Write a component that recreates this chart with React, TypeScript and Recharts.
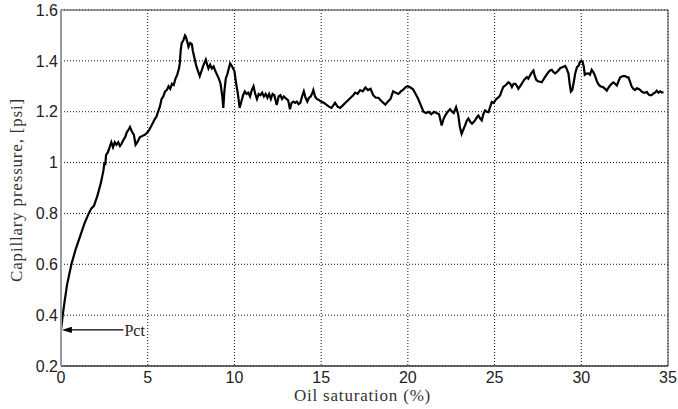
import { LineChart, Line, XAxis, YAxis, CartesianGrid, ReferenceLine, ReferenceArea, Label } from "recharts"

// oil saturation (%)
const saturation = [
  0, 0.05, 0.1, 0.2, 0.35, 0.6, 0.85, 1.1, 1.35, 1.6,
  1.75, 1.9, 2.1, 2.3, 2.45, 2.5, 2.55, 2.6, 2.7, 2.8,
  2.9, 3.0, 3.1, 3.2, 3.3, 3.4, 3.5, 3.6, 3.7, 3.8,
  3.9, 3.98, 4.1, 4.2, 4.3, 4.4, 4.55, 4.7, 4.85, 5.0,
  5.1, 5.25, 5.4, 5.5, 5.6, 5.7, 5.8, 5.9, 6.0, 6.1,
  6.2, 6.3, 6.4, 6.5, 6.6, 6.7, 6.8, 6.85, 6.9, 6.96,
  7.05, 7.15, 7.2, 7.3, 7.35, 7.45, 7.55, 7.6, 7.7, 7.8,
  7.9, 8.0, 8.1, 8.2, 8.35, 8.45, 8.5, 8.6, 8.7, 8.8,
  8.9, 9.0, 9.1, 9.2, 9.3, 9.36, 9.42, 9.5, 9.6, 9.75,
  9.85, 10.0, 10.1, 10.2, 10.3, 10.4, 10.5, 10.6, 10.7, 10.8,
  10.9, 11.0, 11.1, 11.2, 11.3, 11.4, 11.5, 11.6, 11.7, 11.8,
  11.9, 12.0, 12.1, 12.2, 12.3, 12.44, 12.55, 12.65, 12.75, 12.85,
  13.0, 13.1, 13.2, 13.3, 13.4, 13.5, 13.6, 13.7, 13.8, 13.9,
  14.0, 14.1, 14.2, 14.3, 14.4, 14.5, 14.55, 14.65, 14.75, 14.9,
  15.0, 15.15, 15.3, 15.45, 15.6, 15.7, 15.8, 15.95, 16.1, 16.25,
  16.4, 16.55, 16.7, 16.85, 16.96, 17.1, 17.25, 17.4, 17.55, 17.7,
  17.85, 18.0, 18.15, 18.3, 18.5, 18.7, 18.85, 19.0, 19.15, 19.3,
  19.45, 19.6, 19.75, 19.9, 20.0, 20.15, 20.3, 20.45, 20.6, 20.75,
  20.9, 21.05, 21.2, 21.35, 21.5, 21.65, 21.8, 21.95, 22.05, 22.15,
  22.3, 22.43, 22.55, 22.65, 22.78, 22.9, 23.0, 23.1, 23.2, 23.3,
  23.4, 23.49, 23.6, 23.7, 23.8, 23.87, 24.0, 24.07, 24.15, 24.26,
  24.35, 24.45, 24.55, 24.65, 24.75, 24.84, 24.95, 25.1, 25.2, 25.32,
  25.4, 25.5, 25.65, 25.8, 25.9, 26.0, 26.1, 26.2, 26.3, 26.37,
  26.47, 26.57, 26.7, 26.86, 26.95, 27.05, 27.15, 27.24, 27.3, 27.4,
  27.5, 27.62, 27.72, 27.85, 27.97, 28.1, 28.2, 28.3, 28.4, 28.5,
  28.65, 28.78, 28.9, 29.07, 29.15, 29.26, 29.33, 29.4, 29.48, 29.55,
  29.65, 29.75, 29.84, 29.92, 30.0, 30.08, 30.15, 30.2, 30.3, 30.41,
  30.5, 30.6, 30.7, 30.8, 30.9, 31.0, 31.1, 31.27, 31.37, 31.47,
  31.57, 31.66, 31.75, 31.85, 31.95, 32.05, 32.15, 32.24, 32.4, 32.53,
  32.65, 32.72, 32.8, 32.9, 33.0, 33.1, 33.2, 33.3, 33.4, 33.5,
  33.6, 33.7, 33.78, 33.85, 33.93, 34.05, 34.16, 34.25, 34.35, 34.45,
  34.55, 34.64, 34.74,
]

// capillary pressure (psi), same order as saturation
const pressure = [
  0.342, 0.37, 0.40, 0.45, 0.52, 0.60, 0.66, 0.71, 0.76, 0.80,
  0.82, 0.83, 0.87, 0.92, 0.97, 1.00, 0.99, 1.03, 1.04, 1.06,
  1.08, 1.06, 1.08, 1.07, 1.08, 1.065, 1.075, 1.09, 1.10, 1.12,
  1.13, 1.14, 1.12, 1.11, 1.07, 1.08, 1.10, 1.105, 1.11, 1.12,
  1.13, 1.15, 1.17, 1.18, 1.20, 1.22, 1.25, 1.26, 1.28, 1.285,
  1.30, 1.29, 1.31, 1.305, 1.33, 1.345, 1.37, 1.39, 1.44, 1.47,
  1.48, 1.50, 1.495, 1.47, 1.455, 1.47, 1.465, 1.44, 1.41, 1.38,
  1.36, 1.34, 1.36, 1.38, 1.405, 1.38, 1.37, 1.385, 1.37, 1.378,
  1.36, 1.345, 1.33, 1.31, 1.26, 1.215, 1.28, 1.33, 1.35, 1.39,
  1.38, 1.36, 1.31, 1.27, 1.215, 1.24, 1.265, 1.28, 1.27, 1.275,
  1.26, 1.285, 1.30, 1.27, 1.25, 1.27, 1.265, 1.275, 1.26, 1.27,
  1.255, 1.27, 1.25, 1.27, 1.265, 1.226, 1.26, 1.265, 1.25, 1.26,
  1.25, 1.245, 1.21, 1.235, 1.24, 1.235, 1.24, 1.23, 1.235, 1.26,
  1.28, 1.255, 1.24, 1.255, 1.26, 1.275, 1.285, 1.26, 1.25, 1.245,
  1.24, 1.235, 1.228, 1.22, 1.215, 1.225, 1.235, 1.22, 1.215, 1.225,
  1.235, 1.245, 1.255, 1.265, 1.275, 1.27, 1.285, 1.28, 1.295, 1.285,
  1.29, 1.265, 1.255, 1.255, 1.24, 1.228, 1.24, 1.25, 1.28, 1.275,
  1.27, 1.28, 1.288, 1.298, 1.30, 1.295, 1.288, 1.27, 1.25, 1.225,
  1.20, 1.195, 1.20, 1.19, 1.20, 1.195, 1.19, 1.146, 1.17, 1.185,
  1.20, 1.21, 1.20, 1.195, 1.218, 1.19, 1.14, 1.113, 1.13, 1.146,
  1.165, 1.173, 1.16, 1.153, 1.16, 1.166, 1.18, 1.185, 1.175, 1.166,
  1.19, 1.205, 1.20, 1.198, 1.22, 1.238, 1.235, 1.25, 1.255, 1.264,
  1.28, 1.297, 1.305, 1.316, 1.31, 1.297, 1.31, 1.31, 1.30, 1.29,
  1.30, 1.31, 1.325, 1.336, 1.33, 1.343, 1.355, 1.362, 1.345, 1.325,
  1.32, 1.318, 1.316, 1.33, 1.343, 1.355, 1.362, 1.365, 1.355, 1.351,
  1.36, 1.371, 1.375, 1.38, 1.37, 1.35, 1.31, 1.279, 1.285, 1.31,
  1.35, 1.375, 1.38, 1.395, 1.40, 1.395, 1.375, 1.345, 1.35, 1.351,
  1.345, 1.365, 1.355, 1.34, 1.32, 1.307, 1.30, 1.296, 1.29, 1.283,
  1.295, 1.303, 1.31, 1.315, 1.31, 1.303, 1.32, 1.335, 1.34, 1.34,
  1.335, 1.335, 1.32, 1.30, 1.29, 1.285, 1.292, 1.29, 1.285, 1.278,
  1.275, 1.275, 1.278, 1.27, 1.265, 1.265, 1.272, 1.275, 1.283, 1.275,
  1.28, 1.276, 1.276,
]

const xTicks = [0, 5, 10, 15, 20, 25, 30, 35]
const yTicks = [0.2, 0.4, 0.6, 0.8, 1, 1.2, 1.4, 1.6]

// "Pct" annotation: arrow pointing at the threshold pressure on the y axis
const pctLevel = 0.342
const pctFrom = 3.6
const pctTo = 0.05

const data = saturation.map((s, i) => ({ s, p: pressure[i] }))

const serif = "'Liberation Serif', 'Times New Roman', serif"
const sans = "'Liberation Sans', Arial, sans-serif"

function PctArrow(props: any) {
  const { x1, y1, x2 } = props
  const tip = Math.min(x1, x2)
  const tail = Math.max(x1, x2)
  return (
    <g>
      <line x1={tip + 6} y1={y1} x2={tail} y2={y1} stroke="#000" strokeWidth={1.1} />
      <polygon points={`${tip},${y1} ${tip + 10},${y1 - 3.2} ${tip + 10},${y1 + 3.2}`} fill="#000" />
      <text x={tail + 1} y={y1 + 6} fontFamily={serif} fontSize={16} fill="#222">
        Pct
      </text>
    </g>
  )
}

export default function App() {
  return (
    <div style={{ position: "absolute", left: 0, top: 0, width: 678, height: 409, background: "#fff" }}>
      <LineChart width={678} height={409} data={data} margin={{ top: 10, right: 10, bottom: 0, left: 0 }}>
        <CartesianGrid stroke="#111" strokeDasharray="1 2" strokeWidth={1} />
        <ReferenceArea x1={0} x2={35} y1={0.2} y2={1.6} fill="none" stroke="#444" strokeWidth={1} fillOpacity={0} />
        <XAxis
          dataKey="s"
          type="number"
          domain={[0, 35]}
          ticks={xTicks}
          height={43}
          tickSize={0}
          tickMargin={6}
          axisLine={{ stroke: "#333" }}
          tickLine={false}
          tick={{ fontSize: 16, fill: "#222", fontFamily: sans }}
          allowDataOverflow
        >
          <Label
            content={(p: any) => (
              <text
                x={p.viewBox.x + p.viewBox.width / 2 - 2}
                y={p.viewBox.y + 35}
                textAnchor="middle"
                fontFamily={serif}
                fontSize={17}
                letterSpacing={0.8}
                fill="#333"
              >
                Oil saturation (%)
              </text>
            )}
          />
        </XAxis>
        <YAxis
          type="number"
          domain={[0.2, 1.6]}
          ticks={yTicks}
          width={61}
          tickSize={0}
          tickMargin={3}
          axisLine={{ stroke: "#9a9a9a", strokeWidth: 2 }}
          tickLine={false}
          tick={{ fontSize: 16, fill: "#222", fontFamily: sans }}
          tickFormatter={(v: number) => String(v)}
          allowDataOverflow
        >
          <Label
            content={(p: any) => {
              const cy = p.viewBox.y + p.viewBox.height / 2 + 2
              return (
                <text
                  x={22}
                  y={cy}
                  transform={`rotate(-90, 22, ${cy})`}
                  textAnchor="middle"
                  fontFamily={serif}
                  fontSize={17}
                  letterSpacing={0.8}
                  fill="#333"
                >
                  Capillary pressure, [psi]
                </text>
              )
            }}
          />
        </YAxis>
        <Line
          type="linear"
          dataKey="p"
          stroke="#000"
          strokeWidth={2.2}
          dot={false}
          isAnimationActive={false}
        />
        <ReferenceLine
          segment={[
            { x: pctTo, y: pctLevel },
            { x: pctFrom, y: pctLevel },
          ]}
          shape={PctArrow}
        />
      </LineChart>
    </div>
  )
}
